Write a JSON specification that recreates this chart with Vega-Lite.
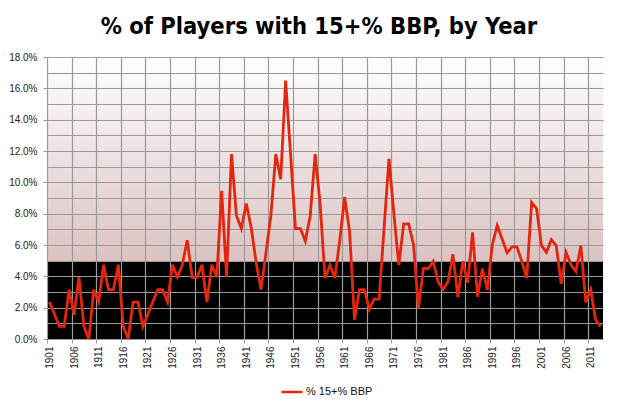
{
  "$schema": "https://vega.github.io/schema/vega-lite/v6.json",
  "autosize": {"type": "none"},
  "width": 556,
  "height": 282,
  "padding": {"left": 47, "top": 57, "right": 37, "bottom": 67},
  "background": "#ffffff",
  "title": {
    "text": "% of Players with 15+% BBP, by Year",
    "font": "DejaVu Sans Condensed, Liberation Sans, sans-serif",
    "fontWeight": "bold",
    "fontSize": 23.5,
    "color": "#000000",
    "anchor": "middle",
    "dx": -6,
    "offset": 14
  },
  "data": {
    "values": [
      {"year": 1901, "pct": 2.36}, {"year": 1902, "pct": 1.6}, {"year": 1903, "pct": 0.81},
      {"year": 1904, "pct": 0.81}, {"year": 1905, "pct": 3.15}, {"year": 1906, "pct": 1.55},
      {"year": 1907, "pct": 3.94}, {"year": 1908, "pct": 0.81}, {"year": 1909, "pct": 0.0},
      {"year": 1910, "pct": 3.15}, {"year": 1911, "pct": 2.36}, {"year": 1912, "pct": 4.74},
      {"year": 1913, "pct": 3.15}, {"year": 1914, "pct": 3.15}, {"year": 1915, "pct": 4.74},
      {"year": 1916, "pct": 0.81}, {"year": 1917, "pct": 0.0}, {"year": 1918, "pct": 2.36},
      {"year": 1919, "pct": 2.36}, {"year": 1920, "pct": 0.81}, {"year": 1921, "pct": 1.58},
      {"year": 1922, "pct": 2.36}, {"year": 1923, "pct": 3.15}, {"year": 1924, "pct": 3.15},
      {"year": 1925, "pct": 2.36}, {"year": 1926, "pct": 4.74}, {"year": 1927, "pct": 3.94},
      {"year": 1928, "pct": 4.74}, {"year": 1929, "pct": 6.3}, {"year": 1930, "pct": 3.94},
      {"year": 1931, "pct": 3.94}, {"year": 1932, "pct": 4.74}, {"year": 1933, "pct": 2.36},
      {"year": 1934, "pct": 4.74}, {"year": 1935, "pct": 3.94}, {"year": 1936, "pct": 9.45},
      {"year": 1937, "pct": 3.94}, {"year": 1938, "pct": 11.8}, {"year": 1939, "pct": 7.87},
      {"year": 1940, "pct": 7.05}, {"year": 1941, "pct": 8.65}, {"year": 1942, "pct": 7.1},
      {"year": 1943, "pct": 4.9}, {"year": 1944, "pct": 3.15}, {"year": 1945, "pct": 5.5},
      {"year": 1946, "pct": 7.87}, {"year": 1947, "pct": 11.8}, {"year": 1948, "pct": 10.2},
      {"year": 1949, "pct": 16.5}, {"year": 1950, "pct": 11.8}, {"year": 1951, "pct": 7.05},
      {"year": 1952, "pct": 7.05}, {"year": 1953, "pct": 6.25}, {"year": 1954, "pct": 7.87},
      {"year": 1955, "pct": 11.8}, {"year": 1956, "pct": 8.65}, {"year": 1957, "pct": 3.9},
      {"year": 1958, "pct": 4.72}, {"year": 1959, "pct": 3.9}, {"year": 1960, "pct": 6.3},
      {"year": 1961, "pct": 9.05}, {"year": 1962, "pct": 6.85}, {"year": 1963, "pct": 1.23},
      {"year": 1964, "pct": 3.15}, {"year": 1965, "pct": 3.15}, {"year": 1966, "pct": 1.9},
      {"year": 1967, "pct": 2.55}, {"year": 1968, "pct": 2.55}, {"year": 1969, "pct": 7.05},
      {"year": 1970, "pct": 11.5}, {"year": 1971, "pct": 8.0}, {"year": 1972, "pct": 4.72},
      {"year": 1973, "pct": 7.35}, {"year": 1974, "pct": 7.35}, {"year": 1975, "pct": 6.0},
      {"year": 1976, "pct": 1.96}, {"year": 1977, "pct": 4.5}, {"year": 1978, "pct": 4.5},
      {"year": 1979, "pct": 4.96}, {"year": 1980, "pct": 3.65}, {"year": 1981, "pct": 3.17},
      {"year": 1982, "pct": 3.65}, {"year": 1983, "pct": 5.41}, {"year": 1984, "pct": 2.68},
      {"year": 1985, "pct": 4.96}, {"year": 1986, "pct": 3.6}, {"year": 1987, "pct": 6.8},
      {"year": 1988, "pct": 2.7}, {"year": 1989, "pct": 4.5}, {"year": 1990, "pct": 3.13},
      {"year": 1991, "pct": 6.0}, {"year": 1992, "pct": 7.25}, {"year": 1993, "pct": 6.38},
      {"year": 1994, "pct": 5.5}, {"year": 1995, "pct": 5.88}, {"year": 1996, "pct": 5.88},
      {"year": 1997, "pct": 4.96}, {"year": 1998, "pct": 3.89}, {"year": 1999, "pct": 8.72},
      {"year": 2000, "pct": 8.32}, {"year": 2001, "pct": 5.96}, {"year": 2002, "pct": 5.53},
      {"year": 2003, "pct": 6.34}, {"year": 2004, "pct": 5.96}, {"year": 2005, "pct": 3.53},
      {"year": 2006, "pct": 5.53}, {"year": 2007, "pct": 4.74}, {"year": 2008, "pct": 4.32},
      {"year": 2009, "pct": 5.96}, {"year": 2010, "pct": 2.34}, {"year": 2011, "pct": 3.15},
      {"year": 2012, "pct": 1.23}, {"year": 2013, "pct": 0.81}
    ]
  },
  "mark": {"type": "line", "strokeWidth": 2.8, "interpolate": "linear"},
  "encoding": {
    "x": {
      "field": "year",
      "type": "quantitative",
      "scale": {"domain": [1900.5, 2013.5], "nice": false, "zero": false},
      "axis": {
        "title": null,
        "values": [1900.5, 1905.5, 1910.5, 1915.5, 1920.5, 1925.5, 1930.5, 1935.5, 1940.5, 1945.5, 1950.5, 1955.5, 1960.5, 1965.5, 1970.5, 1975.5, 1980.5, 1985.5, 1990.5, 1995.5, 2000.5, 2005.5, 2010.5],
        "labelExpr": "format(datum.value + 0.5, 'd')",
        "labelAngle": -90,
        "labelOffset": 2.5,
        "labelPadding": 3,
        "tickSize": 4
      }
    },
    "y": {
      "field": "pct",
      "type": "quantitative",
      "scale": {"domain": [0, 18], "nice": false},
      "axis": {
        "title": null,
        "values": [0, 1, 2, 3, 4, 5, 6, 7, 8, 9, 10, 11, 12, 13, 14, 15, 16, 17, 18],
        "labelExpr": "datum.value % 2 == 0 ? format(datum.value / 100, '.1%') : ''",
        "tickOpacity": {"condition": {"test": "datum.value % 2 == 1", "value": 0}, "value": 1},
        "tickSize": 4,
        "labelPadding": 6
      }
    },
    "color": {
      "datum": "% 15+% BBP",
      "type": "nominal",
      "scale": {"range": ["#e3260d"]},
      "legend": {
        "orient": "none",
        "legendX": 233,
        "legendY": 323,
        "title": null,
        "symbolType": "stroke",
        "symbolSize": 440,
        "symbolStrokeWidth": 2.5,
        "labelFont": "Liberation Sans",
        "labelFontSize": 11,
        "labelColor": "#111111",
        "labelOffset": 2
      }
    }
  },
  "config": {
    "view": {
      "stroke": null,
      "fill": {
        "gradient": "linear",
        "x1": 0, "y1": 0, "x2": 0, "y2": 1,
        "stops": [
          {"offset": 0, "color": "#ffffff"},
          {"offset": 0.7222, "color": "#dcc2c2"},
          {"offset": 0.7222, "color": "#000000"},
          {"offset": 1, "color": "#000000"}
        ]
      }
    },
    "axis": {
      "grid": true,
      "gridColor": "#9a9a9a",
      "gridWidth": 1.2,
      "gridOpacity": 1,
      "domainColor": "#9a9a9a",
      "tickColor": "#9a9a9a",
      "labelFont": "Liberation Sans",
      "labelFontSize": 10,
      "labelColor": "#222222"
    }
  }
}
